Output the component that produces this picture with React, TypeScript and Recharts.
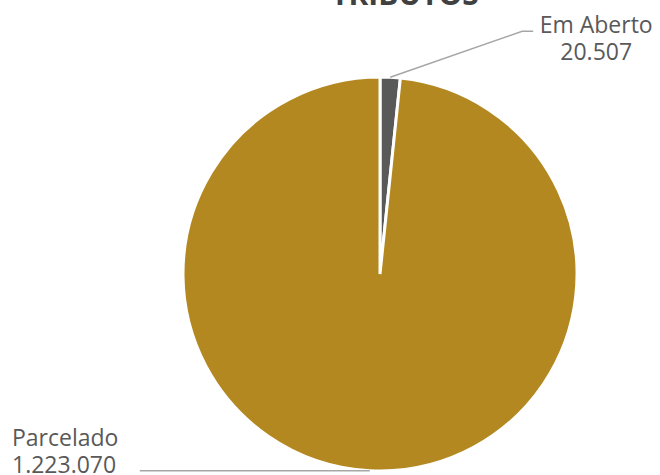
import { PieChart, Pie, Cell } from "recharts"

const categories = ["Em Aberto", "Parcelado"]
const values = [20507, 1223070]
const valueLabels = ["20.507", "1.223.070"]
const colors = ["#595959", "#B38820"]
const title = "TRIBUTOS"

const data = categories.map((name, i) => ({ name, value: values[i], text: valueLabels[i] }))

const FONT = "'Open Sans', sans-serif"
const RAD = Math.PI / 180

function renderLabel(props: any) {
    const { cx, cy, midAngle, outerRadius, index } = props
    const px = cx + outerRadius * Math.cos(-midAngle * RAD)
    const py = cy + outerRadius * Math.sin(-midAngle * RAD)
    const item = data[index]
    if (index === 0) {
        const ex = px + 132
        const ey = py - 46
        const tx = ex + 74
        return (
            <g>
                <polyline points={`${px},${py} ${ex},${ey} ${ex + 11},${ey}`} fill="none" stroke="#A6A6A6" strokeWidth={1.5} />
                <text x={tx} y={ey + 2} textAnchor="middle" fill="#595959" fontSize={23} fontFamily={FONT}>{item.name}</text>
                <text x={tx} y={ey + 29} textAnchor="middle" fill="#595959" fontSize={23} fontFamily={FONT}>{item.text}</text>
            </g>
        )
    }
    const ex = px - 230
    return (
        <g>
            <polyline points={`${px},${py} ${ex},${py}`} fill="none" stroke="#A6A6A6" strokeWidth={1.5} />
            <text x={12} y={py - 25} textAnchor="start" fill="#595959" fontSize={23} fontFamily={FONT}>{item.name}</text>
            <text x={12} y={py + 2} textAnchor="start" fill="#595959" fontSize={23} fontFamily={FONT}>{item.text}</text>
        </g>
    )
}

export default function App() {
    return (
        <div style={{ position: "absolute", top: 0, left: 0, width: 660, height: 475, background: "#fff", overflow: "hidden" }}>
            <PieChart width={660} height={475} margin={{ top: 0, right: 0, bottom: 0, left: 0 }}>
                <text x={405} y={5} textAnchor="middle" fill="#404040" fontSize={30} fontWeight="bold" fontFamily={FONT}>{title}</text>
                <Pie
                    data={data}
                    dataKey="value"
                    nameKey="name"
                    cx={380}
                    cy={274}
                    outerRadius={197}
                    startAngle={90}
                    endAngle={-270}
                    stroke="#ffffff"
                    strokeWidth={3}
                    label={renderLabel}
                    labelLine={false}
                    isAnimationActive={false}
                >
                    {data.map((d, i) => (
                        <Cell key={d.name} fill={colors[i]} />
                    ))}
                </Pie>
            </PieChart>
        </div>
    )
}
